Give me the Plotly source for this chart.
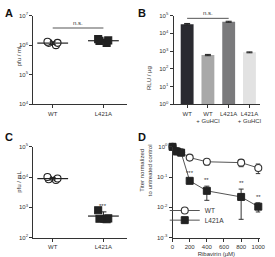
import numpy as np
import plotly.graph_objects as go

# ---------------- data ----------------
groups_A = ["WT", "L421A"]
A_wt = [1.3e6, 1.2e6, 1.0e6, 1.2e6]
A_l421a = [1.6e6, 1.4e6, 1.2e6, 1.45e6]

B_labels = ["WT", "WT<br>+ GuHCl", "L421A", "L421A<br>+ GuHCl"]
B_values = [3.3e4, 6.0e2, 4.5e4, 8.5e2]
B_err = [3.0e3, 5.0e1, 3.0e3, 5.0e1]
B_colors = ["#2a2a30", "#a8a8a8", "#7a7a7c", "#e2e2e2"]

groups_C = ["WT", "L421A"]
C_wt = [1.0e4, 9.0e3, 8.0e3, 8.5e3]
C_l421a = [800, 420, 400, 430]

D_x = [0, 50, 100, 200, 400, 800, 1000]
D_wt = [1.0, 0.72, 0.66, 0.44, 0.32, 0.30, 0.20]
D_wt_lo = [0, 0.05, 0.05, 0.04, 0.07, 0.08, 0.07]
D_wt_hi = [0, 0.05, 0.05, 0.04, 0.06, 0.07, 0.07]
D_l421a = [1.0, 0.70, 0.64, 0.075, 0.035, 0.022, 0.0105]
D_l421a_lo = [0, 0.05, 0.05, 0.01, 0.018, 0.018, 0.0035]
D_l421a_hi = [0, 0.05, 0.05, 0.01, 0.015, 0.018, 0.0035]
D_stars = ["", "", "", "***", "**", "**", "**"]

FONT = "Liberation Sans, Arial, sans-serif"
AX = "#333333"
W, H = 275, 257


def px(x):
    return x / W


def py(y):
    return 1 - y / H


fig = go.Figure()


def dot_group(xpos, vals, symbol, fill, xa, ya, name):
    fig.add_trace(go.Box(
        x=[xpos] * len(vals), y=vals, boxpoints="all", jitter=0.7, pointpos=0,
        width=0.35, fillcolor="rgba(0,0,0,0)", line=dict(width=0, color="rgba(0,0,0,0)"),
        marker=dict(symbol=symbol, size=7, color=fill, line=dict(color="#222", width=1.1)),
        xaxis=xa, yaxis=ya, showlegend=False, name=name, hoverinfo="skip"))
    m = float(np.mean(vals))
    sd = float(np.std(vals, ddof=1))
    fig.add_trace(go.Scatter(
        x=[xpos], y=[m], mode="markers",
        marker=dict(symbol="line-ew-open", size=22, color="#222", line=dict(color="#222", width=1.2)),
        error_y=dict(type="data", array=[sd], color="#222", thickness=1, width=3),
        xaxis=xa, yaxis=ya, showlegend=False, cliponaxis=False))


# Panel A
dot_group(0, A_wt, "circle", "white", "x", "y", "WT")
dot_group(1, A_l421a, "square", "#222", "x", "y", "L421A")

# Panel B
fig.add_trace(go.Bar(
    x=list(range(len(B_values))), y=B_values, marker=dict(color=B_colors, line=dict(width=0)),
    width=0.62, error_y=dict(type="data", array=B_err, color="#222", thickness=1, width=3),
    xaxis="x2", yaxis="y2", showlegend=False))

# Panel C
dot_group(0, C_wt, "circle", "white", "x3", "y3", "WT")
dot_group(1, C_l421a, "square", "#222", "x3", "y3", "L421A")

# Panel D
fig.add_trace(go.Scatter(
    x=D_x, y=D_wt, mode="lines+markers", name="WT", legend="legend",
    line=dict(color="#555", width=1),
    marker=dict(symbol="circle", size=7, color="white", line=dict(color="#333", width=1.1)),
    error_y=dict(type="data", array=D_wt_hi, arrayminus=D_wt_lo, color="#333", thickness=1, width=2.5),
    xaxis="x4", yaxis="y4", cliponaxis=False))
fig.add_trace(go.Scatter(
    x=D_x, y=D_l421a, mode="lines+markers", name="L421A", legend="legend2",
    line=dict(color="#555", width=1),
    marker=dict(symbol="square", size=7, color="#222", line=dict(color="#222", width=1)),
    error_y=dict(type="data", array=D_l421a_hi, arrayminus=D_l421a_lo, color="#333", thickness=1, width=2.5),
    xaxis="x4", yaxis="y4", cliponaxis=False))


def sup_labels(lo, hi):
    vals = [10.0 ** e for e in range(lo, hi + 1)]
    txt = ["10<sup>%d</sup>" % e for e in range(lo, hi + 1)]
    return vals, txt


tick_font = dict(family=FONT, size=6, color="#333")
axis_common = dict(showline=True, linecolor=AX, linewidth=1, ticks="outside", ticklen=3,
                   tickcolor=AX, tickwidth=1, showgrid=False, zeroline=False, tickfont=tick_font)

yvA, ytA = sup_labels(4, 7)
yvB, ytB = sup_labels(0, 5)
yvC, ytC = sup_labels(2, 5)
yvD, ytD = sup_labels(-3, 0)

leg_common = dict(xanchor="left", yanchor="middle", bgcolor="rgba(0,0,0,0)",
                  font=dict(family=FONT, size=6.5, color="#333"), itemwidth=30,
                  tracegroupgap=0, borderwidth=0)

fig.update_layout(
    width=W, height=H, margin=dict(l=0, r=0, t=0, b=0),
    paper_bgcolor="white", plot_bgcolor="white",
    font=dict(family=FONT, size=6, color="#333"),
    xaxis=dict(domain=[px(32), px(128)], range=[-0.385, 1.46], tickvals=[0, 1], ticktext=groups_A,
               anchor="y", **axis_common),
    yaxis=dict(domain=[py(104), py(12)], type="log", range=[4, 7], tickvals=yvA, ticktext=ytA,
               anchor="x", **axis_common),
    xaxis2=dict(domain=[px(176), px(265)], range=[-0.656, 3.52], tickvals=[0, 1, 2, 3],
                ticktext=B_labels, tickangle=0, anchor="y2", **axis_common),
    yaxis2=dict(domain=[py(104), py(12)], type="log", range=[0, 5], tickvals=yvB, ticktext=ytB,
                anchor="x2", **axis_common),
    xaxis3=dict(domain=[px(32), px(128)], range=[-0.385, 1.46], tickvals=[0, 1], ticktext=groups_C,
                anchor="y3", **axis_common),
    yaxis3=dict(domain=[py(242), py(148)], type="log", range=[2, 5], tickvals=yvC, ticktext=ytC,
                anchor="x3", **axis_common),
    xaxis4=dict(domain=[px(175), px(265)], range=[0, 1023], tickvals=[0, 200, 400, 600, 800, 1000],
                tickangle=0, anchor="y4",
                title=dict(text="Ribavirin (µM)", font=dict(size=6, family=FONT), standoff=3),
                **axis_common),
    yaxis4=dict(domain=[py(242), py(148)], type="log", range=[-3, 0], tickvals=yvD, ticktext=ytD,
                anchor="x4", **axis_common),
    legend=dict(x=px(167), y=py(214), **leg_common),
    legend2=dict(x=px(167), y=py(224), **leg_common),
    showlegend=True,
)

# significance bars
fig.add_shape(type="line", xref="x", yref="y", x0=0, x1=1, y0=3.8e6, y1=3.8e6,
              line=dict(color="#aaaaaa", width=2))
fig.add_annotation(xref="x", yref="y", x=0.5, y=np.log10(3.8e6), text="n.s.", showarrow=False,
                   yanchor="bottom", yshift=0, font=dict(size=6, family=FONT, color="#333"))
fig.add_shape(type="line", xref="x2", yref="y2", x0=0, x1=2, y0=7.0e4, y1=7.0e4,
              line=dict(color="#555", width=1))
fig.add_annotation(xref="x2", yref="y2", x=1, y=np.log10(7.0e4), text="n.s.", showarrow=False,
                   yanchor="bottom", yshift=0, font=dict(size=6, family=FONT, color="#333"))

# stars C
c_mean = float(np.mean(C_l421a))
c_sd = float(np.std(C_l421a, ddof=1))
fig.add_annotation(xref="x3", yref="y3", x=1, y=np.log10(c_mean + c_sd), text="***", showarrow=False,
                   yanchor="bottom", yshift=1, font=dict(size=6, family=FONT, color="#333"))
# stars D
for xv, yv, hi, s in zip(D_x, D_l421a, D_l421a_hi, D_stars):
    if s:
        fig.add_annotation(xref="x4", yref="y4", x=xv, y=np.log10(yv + hi), text=s, showarrow=False,
                           yanchor="bottom", yshift=1, font=dict(size=6, family=FONT, color="#333"))

# y titles
for x0, y0, t in [(12, 40, "pfu / mL"), (151, 62, "RLU / µg"), (12, 198, "pfu / mL"),
                  (148, 201, "Titer normalized<br>to untreated control")]:
    fig.add_annotation(xref="paper", yref="paper", x=px(x0), y=py(y0), text=t, textangle=-90,
                       showarrow=False, font=dict(size=6, family=FONT, color="#333"))

# panel letters
for x0, y0, t in [(1, 1, "A"), (138, 1, "B"), (1, 130, "C"), (138, 130, "D")]:
    fig.add_annotation(xref="paper", yref="paper", x=px(x0), y=py(y0), xanchor="left", yanchor="top",
                       text="<b>%s</b>" % t, showarrow=False, font=dict(size=11, family=FONT, color="#111"))

fig.write_html("out.html")
